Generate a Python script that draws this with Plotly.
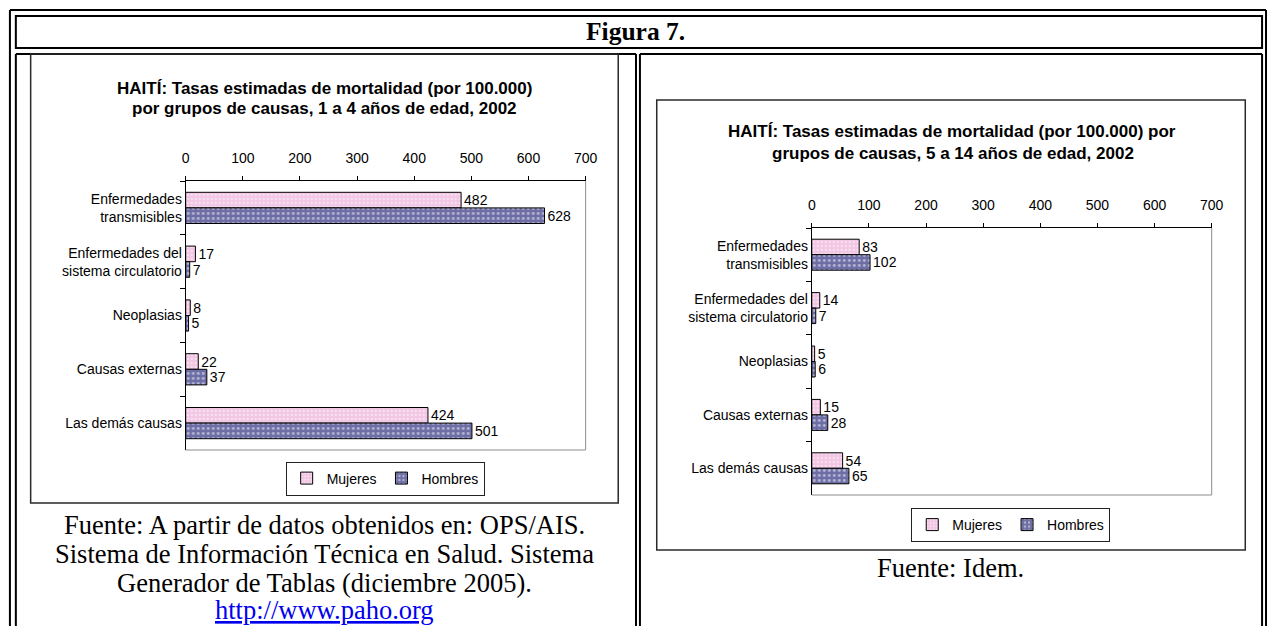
import plotly.graph_objects as go

W, H = 1279, 626
SANS = "Liberation Sans, Arial, sans-serif"
SERIF = "Liberation Serif, Times New Roman, serif"

# ---------------- data ----------------
categories = [
    "Enfermedades<br>transmisibles",
    "Enfermedades del<br>sistema circulatorio",
    "Neoplasias",
    "Causas externas",
    "Las demás causas",
]
series_names = ["Mujeres", "Hombres"]
mujeres_1a4 = [482, 17, 8, 22, 424]
hombres_1a4 = [628, 7, 5, 37, 501]
mujeres_5a14 = [83, 14, 5, 15, 54]
hombres_5a14 = [102, 7, 6, 28, 65]
x_ticks = [0, 100, 200, 300, 400, 500, 600, 700]

title_left = ["HAITÍ: Tasas estimadas de mortalidad (por 100.000)",
              "por grupos de causas, 1 a 4 años de edad, 2002"]
title_right = ["HAITÍ: Tasas estimadas de mortalidad (por 100.000) por",
               "grupos de causas, 5 a 14 años de edad, 2002"]
caption_left = ["Fuente: A partir de datos obtenidos en: OPS/AIS.",
                "Sistema de Información Técnica en Salud. Sistema",
                "Generador de Tablas (diciembre 2005)."]
caption_link = "http://www.paho.org"
caption_right = "Fuente: Idem."
header = "Figura 7."

PINK = "#f2c6e4"
BLUE = "#6e6ea6"


def fx(p):
    return p / W


def fy(p):
    return 1 - p / H


fig = go.Figure()

panels = [
    (mujeres_1a4, hombres_1a4, "x", "y", "legend"),
    (mujeres_5a14, hombres_5a14, "x2", "y2", "legend2"),
]
for muj, hom, xa, ya, lg in panels:
    for vals, name, color, psize, sol in [
        (muj, series_names[0], PINK, 4, 0.25),
        (hom, series_names[1], BLUE, 5, 0.25),
    ]:
        fig.add_trace(go.Bar(
            y=categories, x=vals, orientation="h", name=name,
            xaxis=xa, yaxis=ya, legend=lg,
            marker=dict(color=color, line=dict(color="black", width=1),
                        pattern=dict(shape=".", fgcolor="white", fillmode="overlay",
                                     size=psize, solidity=sol)),
            text=[str(v) for v in vals], textposition="outside",
            textfont=dict(family=SANS, size=14, color="black"),
            constraintext="none", cliponaxis=False,
        ))


def xaxis_cfg(x0, x1, anchor):
    return dict(domain=[fx(x0), fx(x1)], anchor=anchor, side="top",
                range=[0, 700], tickvals=x_ticks, ticks="outside", ticklen=4,
                tickcolor="black", showline=True, linecolor="black", linewidth=1,
                showgrid=False, zeroline=False, ticklabelstandoff=7,
                tickfont=dict(family=SANS, size=14, color="black"), fixedrange=True)


def yaxis_cfg(y0, y1, anchor):
    return dict(domain=[fy(y1), fy(y0)], anchor=anchor, type="category",
                autorange="reversed", showline=True, linecolor="black", linewidth=1,
                ticks="outside", tickson="boundaries", ticklen=5, tickcolor="black",
                showgrid=False, zeroline=False,
                tickfont=dict(family=SANS, size=14, color="black"), fixedrange=True)


legend_common = dict(orientation="h", xanchor="center", yanchor="middle",
                     bordercolor="#222", borderwidth=1, bgcolor="white",
                     font=dict(family=SANS, size=14, color="black"),
                     traceorder="normal", itemclick=False, itemdoubleclick=False,
                     itemwidth=30)

fig.update_layout(
    width=W, height=H, margin=dict(l=0, r=0, t=0, b=0),
    paper_bgcolor="white", plot_bgcolor="white",
    barmode="group", bargap=0.42, bargroupgap=0,
    xaxis=xaxis_cfg(184, 589, "y"),
    yaxis=yaxis_cfg(181, 450, "x"),
    xaxis2=xaxis_cfg(818, 1223, "y2"),
    yaxis2=yaxis_cfg(228, 495, "x2"),
    legend=dict(x=fx(386), y=fy(478.5), **legend_common),
    legend2=dict(x=fx(1019.5), y=fy(525), **legend_common),
    showlegend=True,
)

shapes = []


def hline(x0, x1, y, color="black", width=2):
    shapes.append(dict(type="line", xref="paper", yref="paper",
                       x0=fx(x0), x1=fx(x1), y0=fy(y), y1=fy(y),
                       line=dict(color=color, width=width), layer="above"))


def vline(x, y0, y1, color="black", width=2):
    shapes.append(dict(type="line", xref="paper", yref="paper",
                       x0=fx(x), x1=fx(x), y0=fy(y0), y1=fy(y1),
                       line=dict(color=color, width=width), layer="above"))


def rect(x0, y0, x1, y1, color="black", width=2):
    shapes.append(dict(type="rect", xref="paper", yref="paper",
                       x0=fx(x0), x1=fx(x1), y0=fy(y0), y1=fy(y1),
                       line=dict(color=color, width=width), layer="above"))


# table outer double border
hline(6, 1278, 10)
vline(6, 10, 626)
vline(1278, 10, 626)
# header cell
rect(12, 16, 1274, 48)
# left cell
hline(12, 640, 54)
vline(12, 54, 626)
vline(640, 54, 626)
# right cell
hline(644, 1274, 54)
vline(644, 54, 626)
vline(1274, 54, 626)
# chart boxes
rect(27, 54, 622, 503, color="#2a2a2a", width=1.5)
rect(661, 100, 1257, 550, color="#2a2a2a", width=1.5)

# plot-area frames (right + bottom, grey)
for xa, ya in [("x", "y"), ("x2", "y2")]:
    shapes.append(dict(type="line", xref=f"{xa} domain", yref=f"{ya} domain",
                       x0=1, x1=1, y0=0, y1=1, line=dict(color="#8c8c8c", width=1)))
    shapes.append(dict(type="line", xref=f"{xa} domain", yref=f"{ya} domain",
                       x0=0, x1=1, y0=0, y1=0, line=dict(color="#8c8c8c", width=1)))

fig.update_layout(shapes=shapes)

ann = []


def text(x, y, s, family, size, bold=False, color="black"):
    if bold:
        s = f"<b>{s}</b>"
    ann.append(dict(x=fx(x), y=fy(y), xref="paper", yref="paper", text=s,
                    showarrow=False, xanchor="center", yanchor="middle",
                    font=dict(family=family, size=size, color=color)))


text(640, 31, header, SERIF, 25.5, bold=True)
text(325, 88, title_left[0], SANS, 17, bold=True)
text(325, 108, title_left[1], SANS, 17, bold=True)
text(960, 131, title_right[0], SANS, 17, bold=True)
text(961, 154, title_right[1], SANS, 17, bold=True)
for i, line in enumerate(caption_left):
    text(325, 525 + 29 * i, line, SERIF, 26.5)
text(325, 610, f"<u>{caption_link}</u>", SERIF, 26.5, color="#0000ee")
text(958, 568, caption_right, SERIF, 26.5)

fig.update_layout(annotations=ann)

fig.write_html(
    "out.html",
    config={"displayModeBar": False},
    post_script="document.body.style.margin='0';document.body.style.overflow='hidden';"
                "document.documentElement.style.overflow='hidden';",
)
